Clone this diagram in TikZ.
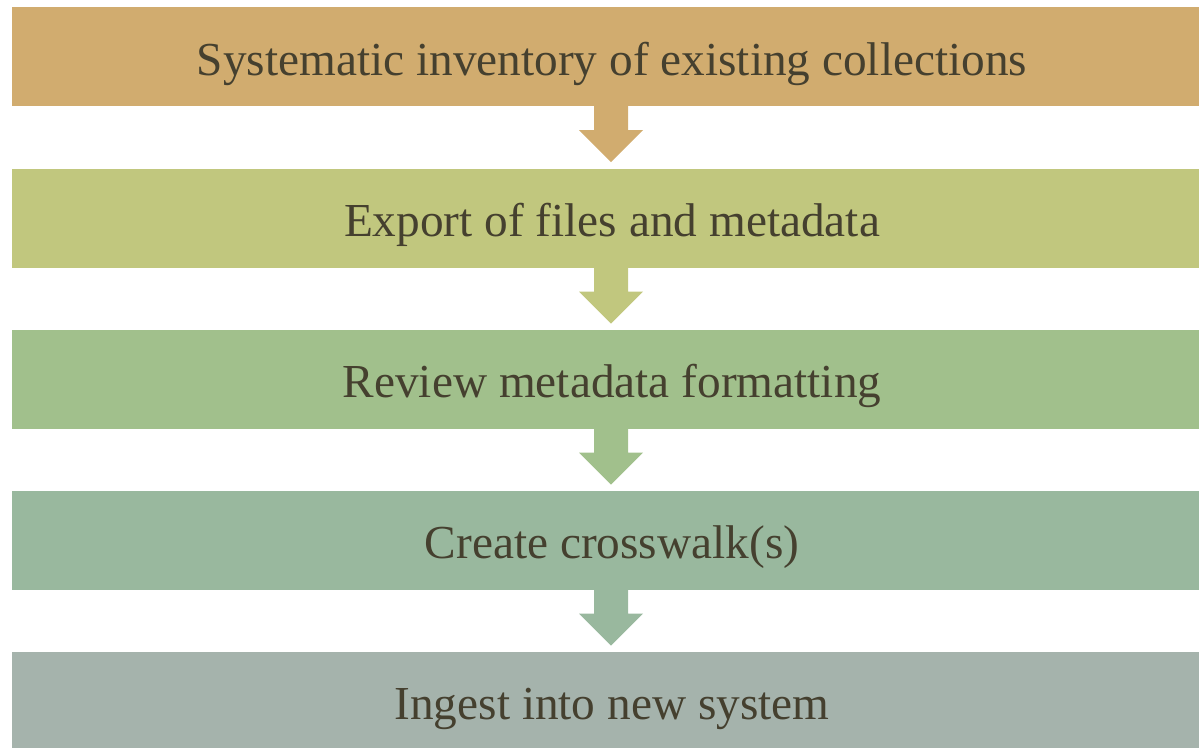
\documentclass[tikz,border=0pt]{standalone}
\usepackage{fontspec}
\setmainfont{Liberation Serif}
\usepackage{xcolor}

\definecolor{cInv}{RGB}{209,172,111}
\definecolor{cExp}{RGB}{193,199,126}
\definecolor{cRev}{RGB}{161,192,140}
\definecolor{cCro}{RGB}{153,184,158}
\definecolor{cIng}{RGB}{165,179,172}
\definecolor{txt}{RGB}{69,64,47}

\tikzset{
    stepbox/.style={minimum width=1200pt, minimum height=99pt, inner sep=0pt,
        text height=37pt, text depth=0pt,
        text=txt, font=\fontsize{47.3}{52}\selectfont}
}

\begin{document}
\begin{tikzpicture}[x=1pt,y=-1pt]
        \useasboundingbox (0,0) rectangle (1199,747);

        \node [stepbox, fill=cInv] (inv) at (612,56.5) {Systematic inventory of existing collections};
        \node [stepbox, fill=cExp] (exp) at (612,218) {Export of files and metadata};
        \node [stepbox, fill=cRev] (rev) at (612,379) {Review metadata formatting};
        \node [stepbox, fill=cCro] (cro) at (612,540) {Create crosswalk(s)};
        \node [stepbox, fill=cIng] (ing) at (612,701) {Ingest into new system};

        \foreach \a/\c in {inv/cInv, exp/cExp, rev/cRev, cro/cCro}
            \fill [\c] ([xshift=-18pt]\a.south) -- ++(0,-24pt) -- ++(-15pt,0) -- ++(32pt,-32pt)
                -- ++(32pt,32pt) -- ++(-15pt,0) -- ++(0,24pt) -- cycle;

    \end{tikzpicture}
\end{document}
